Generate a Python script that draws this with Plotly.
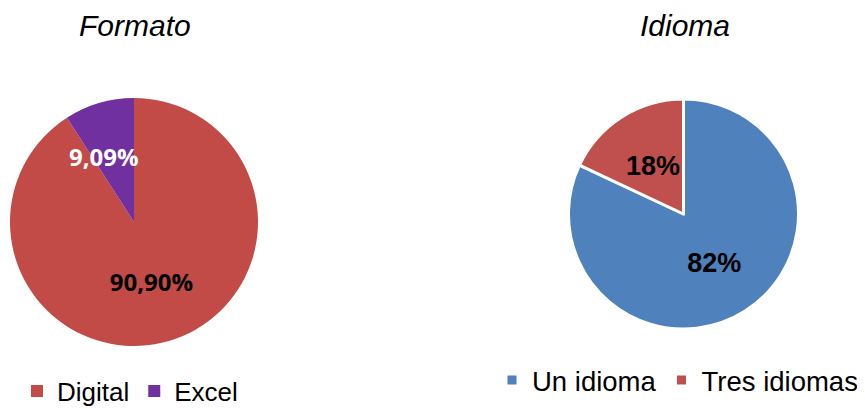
import plotly.graph_objects as go

# Data
formato_labels = ["Digital", "Excel"]
formato_values = [90.90, 9.09]
idioma_labels = ["Un idioma", "Tres idiomas"]
idioma_values = [82, 18]

formato_colors = ["#C24B47", "#7030A0"]
idioma_colors = ["#4F81BD", "#C0504D"]

W, H = 865, 409
OFF = 8  # page body margin offset


def px(x):
    return (x - OFF) / W


def py(y):
    return 1 - (y - OFF) / H


fig = go.Figure()

fig.add_trace(go.Pie(
    labels=formato_labels, values=formato_values,
    sort=False, direction="clockwise", rotation=0,
    marker=dict(colors=formato_colors, line=dict(width=0)),
    texttemplate="%{value:.2f}%", textposition=["inside", "none"],
    insidetextorientation="horizontal",
    textfont=dict(family="Open Sans", size=24, color="#000000", weight="bold"),
    domain=dict(x=[px(10), px(258)], y=[py(346), py(98)]),
    legend="legend", hoverinfo="label+percent",
))

fig.add_trace(go.Pie(
    labels=idioma_labels, values=idioma_values,
    sort=False, direction="clockwise", rotation=0,
    marker=dict(colors=idioma_colors, line=dict(width=3, color="white")),
    texttemplate="%{value:.0f}%", textposition=["inside", "none"],
    insidetextorientation="horizontal",
    textfont=dict(family="Liberation Sans", size=27, color="#000000", weight="bold"),
    domain=dict(x=[px(568.5), px(798.5)], y=[py(329), py(99)]),
    legend="legend2", hoverinfo="label+percent",
))

small_formato = f"{formato_values[1]:.2f}%".replace(".", ",")
small_idioma = f"{idioma_values[1]:.0f}%"

fig.update_layout(
    width=W, height=H,
    margin=dict(l=0, r=0, t=0, b=0, autoexpand=False),
    paper_bgcolor="white", plot_bgcolor="white",
    separators=",.",
    font=dict(family="Liberation Sans", color="#000000"),
    legend=dict(orientation="h", x=9 / W, y=py(391), xanchor="left", yanchor="middle",
                font=dict(size=26, family="Liberation Sans"), bgcolor="rgba(0,0,0,0)"),
    legend2=dict(orientation="h", x=484 / W, y=py(380), xanchor="left", yanchor="middle",
                 font=dict(size=27.5, family="Liberation Sans"), bgcolor="rgba(0,0,0,0)"),
    annotations=[
        dict(text="<i>Formato</i>", x=px(135), y=py(25), xref="paper", yref="paper",
             showarrow=False, xanchor="center", yanchor="middle",
             font=dict(size=30, family="Liberation Sans")),
        dict(text="<i>Idioma</i>", x=px(685), y=py(25), xref="paper", yref="paper",
             showarrow=False, xanchor="center", yanchor="middle",
             font=dict(size=30, family="Liberation Sans")),
        dict(text=f"<b>{small_formato}</b>", x=px(104), y=py(157), xref="paper", yref="paper",
             showarrow=False, xanchor="center", yanchor="middle",
             font=dict(size=24, family="Open Sans", color="#FFFFFF")),
        dict(text=f"<b>{small_idioma}</b>", x=px(653), y=py(166), xref="paper", yref="paper",
             showarrow=False, xanchor="center", yanchor="middle",
             font=dict(size=27, family="Liberation Sans", color="#000000")),
    ],
)

fig.write_html("out.html")
